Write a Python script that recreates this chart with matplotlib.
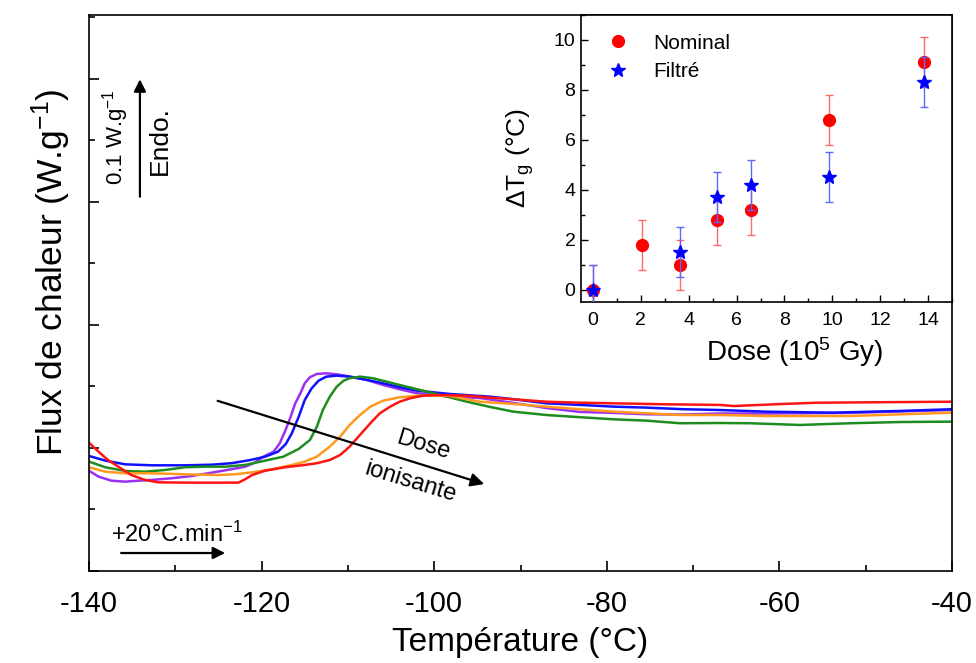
import numpy as np
import matplotlib
matplotlib.use("Agg")
from matplotlib import pyplot as plt
from matplotlib.ticker import MultipleLocator

plt.rcParams['font.family'] = ['Liberation Sans', 'DejaVu Sans']
plt.rcParams['mathtext.fontset'] = 'custom'
plt.rcParams['mathtext.rm'] = 'Liberation Sans'
plt.rcParams['mathtext.it'] = 'Liberation Sans:italic'
plt.rcParams['axes.unicode_minus'] = False

# DSC curves (temperature in C, heat flow in W/g, arbitrary offset)
t_purple = [-140.0, -138.9, -137.4, -135.8, -134.3, -132.7, -130.4, -128.1, -125.8, -123.5, -121.9,
            -120.8, -119.8, -118.6, -117.9, -117.3, -116.7, -116.1, -115.5, -115.0, -114.4, -113.6,
            -112.5, -111.3, -110.1, -107.8, -105.9, -104.0, -102.0, -98.2, -94.7, -90.8, -87.0,
            -83.1, -79.2, -75.4, -71.1, -67.1, -61.5, -51.9, -40.0]
f_purple = [0.0815, 0.0767, 0.0734, 0.0726, 0.0734, 0.0740, 0.0754, 0.0772, 0.0799, 0.0827, 0.0848,
            0.0880, 0.0929, 0.0970, 0.1038, 0.1133, 0.1241, 0.1363, 0.1445, 0.1526, 0.1575, 0.1602,
            0.1607, 0.1599, 0.1585, 0.1553, 0.1512, 0.1477, 0.1445, 0.1417, 0.1406, 0.1366, 0.1325,
            0.1293, 0.1285, 0.1274, 0.1272, 0.1280, 0.1280, 0.1285, 0.1309]

t_blue = [-140.0, -138.1, -135.8, -132.7, -128.9, -125.8, -123.5, -121.3, -119.6, -118.1, -117.2,
          -116.5, -115.7, -115.0, -114.2, -113.4, -112.5, -111.3, -109.8, -107.8, -105.9, -104.0,
          -102.0, -98.2, -93.5, -90.8, -87.0, -83.1, -79.2, -75.4, -71.1, -67.1, -61.5, -53.8,
          -46.0, -40.0]
f_blue = [0.0935, 0.0897, 0.0867, 0.0859, 0.0859, 0.0864, 0.0876, 0.0902, 0.0929, 0.0970, 0.1032,
          0.1119, 0.1254, 0.1390, 0.1485, 0.1547, 0.1580, 0.1588, 0.1580, 0.1553, 0.1526, 0.1494,
          0.1466, 0.1439, 0.1417, 0.1396, 0.1363, 0.1350, 0.1336, 0.1328, 0.1315, 0.1309, 0.1295,
          0.1287, 0.1301, 0.1315]

t_green = [-140.0, -138.1, -135.8, -133.5, -131.2, -128.9, -126.6, -124.2, -121.9, -119.6, -117.5,
           -115.7, -114.4, -113.6, -112.9, -112.1, -111.3, -110.5, -109.8, -108.6, -107.1, -104.0,
           -100.1, -96.2, -93.5, -90.8, -87.0, -83.1, -79.2, -75.4, -71.5, -66.9, -63.4, -57.6,
           -51.8, -46.0, -40.0]
f_green = [0.0889, 0.0843, 0.0813, 0.0807, 0.0821, 0.0843, 0.0848, 0.0848, 0.0862, 0.0897, 0.0929,
           0.0992, 0.1065, 0.1173, 0.1309, 0.1417, 0.1498, 0.1547, 0.1567, 0.1580, 0.1567, 0.1512,
           0.1445, 0.1376, 0.1333, 0.1295, 0.1268, 0.1250, 0.1233, 0.1222, 0.1201, 0.1203, 0.1201,
           0.1187, 0.1201, 0.1211, 0.1214]

t_orange = [-140.0, -138.1, -135.8, -132.7, -128.9, -125.0, -123.1, -121.1, -118.8, -116.5, -115.0,
            -113.6, -112.1, -110.9, -109.8, -108.6, -107.4, -105.9, -104.0, -102.0, -98.2, -94.7,
            -90.8, -87.0, -83.1, -79.2, -75.4, -71.5, -66.9, -61.5, -51.8, -40.0]
f_orange = [0.0843, 0.0807, 0.0794, 0.0794, 0.0786, 0.0780, 0.0786, 0.0802, 0.0827, 0.0862, 0.0889,
            0.0929, 0.1011, 0.1092, 0.1187, 0.1268, 0.1336, 0.1385, 0.1412, 0.1425, 0.1423, 0.1376,
            0.1358, 0.1336, 0.1315, 0.1295, 0.1282, 0.1268, 0.1268, 0.1260, 0.1260, 0.1287]

t_red = [-140.0, -138.9, -137.8, -136.6, -135.1, -133.5, -132.0, -128.9, -125.0, -122.7, -121.9,
         -121.1, -119.6, -117.3, -115.0, -113.6, -112.1, -110.9, -109.8, -108.6, -107.4, -106.3,
         -105.1, -104.0, -102.8, -101.3, -99.7, -96.2, -93.5, -90.8, -87.0, -83.1, -79.2, -73.1,
         -66.9, -65.3, -59.5, -55.7, -48.0, -40.0]
f_red = [0.1043, 0.0970, 0.0902, 0.0848, 0.0780, 0.0740, 0.0721, 0.0718, 0.0718, 0.0718, 0.0746,
         0.0780, 0.0815, 0.0843, 0.0862, 0.0876, 0.0902, 0.0943, 0.1011, 0.1106, 0.1201, 0.1282,
         0.1336, 0.1376, 0.1404, 0.1425, 0.1431, 0.1425, 0.1409, 0.1396, 0.1376, 0.1368, 0.1363,
         0.1355, 0.1350, 0.1341, 0.1358, 0.1368, 0.1372, 0.1376]

# inset: shift of Tg vs dose
dose_nom = [0, 2.05, 3.65, 5.2, 6.6, 9.85, 13.85]
dtg_nom = [0, 1.8, 1.0, 2.8, 3.2, 6.8, 9.1]
err_nom = [1, 1, 1, 1, 1, 1, 1]
dose_fil = [0, 3.65, 5.2, 6.6, 9.85, 13.85]
dtg_fil = [0, 1.5, 3.7, 4.2, 4.5, 8.3]
err_fil = [1, 1, 1, 1, 1, 1]

fig = plt.figure(figsize=(9.76, 6.63), dpi=100)
ax = fig.add_axes([0.0912, 0.1388, 0.8842, 0.8386])

ax.plot(t_purple, f_purple, color='#9b30f2', lw=1.8)
ax.plot(t_blue, f_blue, color='#1010ff', lw=1.8)
ax.plot(t_green, f_green, color='#1e8c1e', lw=1.8)
ax.plot(t_orange, f_orange, color='#ff9a1e', lw=1.8)
ax.plot(t_red, f_red, color='#ff1414', lw=1.8)

ax.set_xlim(-140, -40)
ax.set_ylim(0, 0.452)
ax.xaxis.set_major_locator(MultipleLocator(20))
ax.xaxis.set_minor_locator(MultipleLocator(10))
ax.yaxis.set_major_locator(MultipleLocator(0.1))
ax.yaxis.set_minor_locator(MultipleLocator(0.05))
ax.tick_params(which='both', direction='in', top=False, right=False, width=1.2)
ax.tick_params(which='major', length=7)
ax.tick_params(which='minor', length=4)
ax.tick_params(axis='x', labelsize=21, pad=14)
ax.set_yticklabels([])
for s in ax.spines.values():
    s.set_linewidth(1.2)

ax.set_xlabel('Température (°C)', fontsize=24, labelpad=6)
ax.set_ylabel('Flux de chaleur (W.g$^{-1}$)', fontsize=25.5)
ax.yaxis.set_label_coords(-0.019, 0.537)

# annotations
ax.annotate('', xy=(-134.1, 0.402), xytext=(-134.1, 0.302),
            arrowprops=dict(arrowstyle='-|>', lw=1.6, color='k', mutation_scale=18))
ax.text(-136.9, 0.353, '0.1 W.g$^{-1}$', rotation=90, fontsize=16, ha='center', va='center')
ax.text(-131.8, 0.350, 'Endo.', rotation=90, fontsize=19, ha='center', va='center')

ax.annotate('', xy=(-123.9, 0.0146), xytext=(-136.6, 0.0146),
            arrowprops=dict(arrowstyle='-|>', lw=1.6, color='k', mutation_scale=18))
ax.text(-137.5, 0.0236, '+20°C.min$^{-1}$', fontsize=17, ha='left', va='baseline')

ax.annotate('', xy=(-93.9, 0.070), xytext=(-125.4, 0.139),
            arrowprops=dict(arrowstyle='-|>', lw=1.6, color='k', mutation_scale=20))
ax.text(-101.3, 0.102, 'Dose', rotation=-17, fontsize=17, ha='center', va='center')
ax.text(-102.8, 0.072, 'ionisante', rotation=-17, fontsize=17, ha='center', va='center')

# inset
axi = fig.add_axes([0.5953, 0.5445, 0.3801, 0.4329])
axi.errorbar(dose_nom, dtg_nom, yerr=err_nom, fmt='o', color='#ff0000', ms=8.5,
             ecolor='#ff6a6a', elinewidth=1, capsize=3, label='Nominal', zorder=3)
axi.errorbar(dose_fil, dtg_fil, yerr=err_fil, fmt='*', color='#0000ff', ms=10.5,
             ecolor='#5a6aff', elinewidth=1, capsize=3, label='Filtré', zorder=4)
axi.set_xlim(-0.5, 15)
axi.set_ylim(-0.5, 11)
axi.xaxis.set_major_locator(MultipleLocator(2))
axi.xaxis.set_minor_locator(MultipleLocator(1))
axi.yaxis.set_major_locator(MultipleLocator(2))
axi.yaxis.set_minor_locator(MultipleLocator(1))
axi.tick_params(which='both', direction='in', top=False, right=False, width=1)
axi.tick_params(which='major', length=5, labelsize=14)
axi.tick_params(which='minor', length=3)
axi.tick_params(axis='x', pad=7)
axi.tick_params(axis='y', pad=4)
for s in axi.spines.values():
    s.set_linewidth(1.2)
axi.set_xlabel('Dose (10$^{5}$ Gy)', fontsize=20)
axi.xaxis.set_label_coords(0.577, -0.115)
axi.set_ylabel('ΔT$_\\mathregular{g}$ (°C)', fontsize=19, labelpad=13)

h, l = axi.get_legend_handles_labels()
h = [hh[0] for hh in h]
axi.legend(h, l, loc='upper left', bbox_to_anchor=(0.02, 1.0), frameon=False,
           fontsize=15, handlelength=1.0, handletextpad=1.2, labelspacing=0.45)

fig.savefig('out.png', dpi=100)
